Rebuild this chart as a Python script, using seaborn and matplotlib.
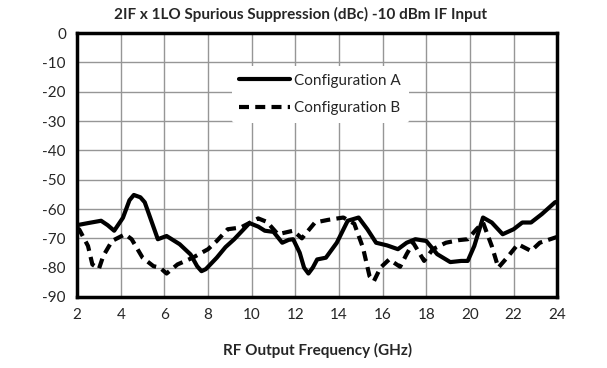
import pandas as pd
import seaborn as sns
import matplotlib.pyplot as plt

freq_a = [2.0, 2.5, 3.1, 3.4, 3.7, 4.1, 4.4, 4.6, 4.9, 5.1, 5.4, 5.7, 6.1, 6.7, 7.2, 7.5,
          7.7, 7.9, 8.4, 8.8, 9.2, 9.9, 10.3, 10.6, 11.0, 11.4, 11.7, 11.9, 12.2, 12.4,
          12.6, 12.8, 13.0, 13.4, 13.9, 14.4, 14.9, 15.3, 15.7, 16.2, 16.7, 17.1, 17.5,
          18.0, 18.5, 19.1, 19.6, 19.9, 20.2, 20.6, 21.0, 21.5, 22.0, 22.4, 22.8, 23.3,
          23.9, 24.0]
conf_a = [-65.5, -64.8, -64.0, -65.5, -67.4, -63.0, -57.0, -55.2, -56.0, -57.7, -64.0,
          -70.3, -69.2, -72.0, -75.5, -79.5, -81.2, -80.5, -76.6, -73.0, -70.3, -64.8,
          -66.0, -67.4, -67.8, -71.5, -70.5, -70.3, -74.9, -80.0, -82.0, -80.0, -77.2,
          -76.6, -71.5, -64.0, -62.9, -66.9, -71.5, -72.4, -73.7, -71.5, -70.3, -70.9,
          -75.4, -78.1, -77.7, -77.7, -72.6, -62.9, -64.6, -68.6, -66.9, -64.6, -64.6,
          -61.7, -57.7, -57.5]

freq_b = [2.0, 2.1, 2.5, 2.7, 3.0, 3.2, 3.6, 4.2, 4.5, 5.0, 5.5, 5.8, 6.1, 6.6, 7.3, 8.0,
          8.4, 8.9, 9.5, 10.3, 10.7, 11.2, 11.9, 12.3, 12.9, 13.5, 14.2, 14.7, 15.1, 15.4,
          15.6, 15.9, 16.3, 16.8, 17.1, 17.4, 17.9, 18.3, 18.9, 19.5, 19.9, 20.3, 20.6,
          21.0, 21.3, 21.7, 22.2, 22.8, 23.2, 23.8, 24.0]
conf_b = [-66.5, -67.0, -72.6, -78.9, -80.4, -76.0, -70.9, -68.6, -70.3, -76.6, -79.5,
          -80.0, -82.0, -78.9, -76.6, -73.7, -70.9, -66.9, -66.3, -63.2, -64.4, -68.6,
          -67.4, -70.0, -64.6, -63.7, -62.9, -65.0, -73.2, -82.9, -84.6, -80.0, -77.2,
          -79.7, -75.4, -71.5, -77.7, -73.7, -71.5, -70.6, -70.3, -66.9, -64.6, -72.6,
          -80.0, -76.6, -72.0, -74.3, -71.5, -70.0, -69.5]

labels = ["Configuration A", "Configuration B"]

df = pd.concat([
    pd.DataFrame({"freq": freq_a, "dbc": conf_a, "config": labels[0]}),
    pd.DataFrame({"freq": freq_b, "dbc": conf_b, "config": labels[1]}),
])

sns.set_style("white")
plt.rcParams["font.family"] = ["Lato", "DejaVu Sans"]
plt.rcParams["axes.unicode_minus"] = False

fig = plt.figure(figsize=(6.07, 3.68), dpi=100)
ax = fig.add_axes([0.127, 0.193, 0.791, 0.717])

sns.lineplot(data=df, x="freq", y="dbc", hue="config", style="config", sort=False,
             palette=["black", "black"], dashes={labels[0]: "", labels[1]: (2.4, 1.5)},
             linewidth=3, ax=ax)

ax.set_xlim(2, 24)
ax.set_ylim(-90, 0)
ax.set_xticks(range(2, 25, 2))
ax.set_yticks(range(-90, 1, 10))
ax.grid(True, color="#969696", linewidth=1)
ax.tick_params(labelsize=11, length=0, pad=8)
for s in ax.spines.values():
    s.set_linewidth(2.5)
    s.set_color("black")
    s.set_zorder(5)

ax.set_xlabel("RF Output Frequency (GHz)", fontsize=11, fontweight="bold", labelpad=15)
ax.set_ylabel("")
fig.suptitle("2IF x 1LO Spurious Suppression (dBc) -10 dBm IF Input",
             fontsize=11, fontweight="bold", x=0.495, y=0.98)

leg = ax.legend(loc="upper left", bbox_to_anchor=(0.322, 0.875), fontsize=11,
                handlelength=3.3, handletextpad=0.3, labelspacing=0.9,
                frameon=True, facecolor="white", edgecolor="none", framealpha=1,
                borderpad=0.5, borderaxespad=0)
for line in leg.get_lines():
    line.set_linewidth(3)

fig.savefig("out.png", dpi=100)
